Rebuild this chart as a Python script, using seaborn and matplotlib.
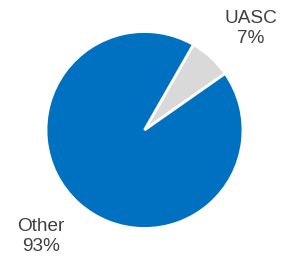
import seaborn as sns
import matplotlib.pyplot as plt

# Dati del grafico a torta
labels = ['UASC', 'Other']
shares = [7, 93]
colors = ['#D9D9D9', '#0070C0']

sns.set_style('white')
plt.rcParams['font.family'] = ['Liberation Sans', 'DejaVu Sans']

fig = plt.figure(figsize=(2.88, 2.59), dpi=100)
ax = fig.add_axes([0, 0, 1, 1])

ax.pie(shares, colors=colors, startangle=35, counterclock=True,
       wedgeprops={'edgecolor': 'white', 'linewidth': 2})

# Etichette con percentuali
label_pos = [(1.08, 1.03), (-1.05, -1.08)]
for name, val, (x, y) in zip(labels, shares, label_pos):
    ax.text(x, y, f'{name}\n{val}%', ha='center', va='center',
            fontsize=13.7, color='#404040', linespacing=1.2)

ax.set_xlim(-1.467, 1.457)
ax.set_ylim(-1.310, 1.320)
ax.set_aspect('equal')
ax.axis('off')

fig.savefig('out.png', dpi=100)
